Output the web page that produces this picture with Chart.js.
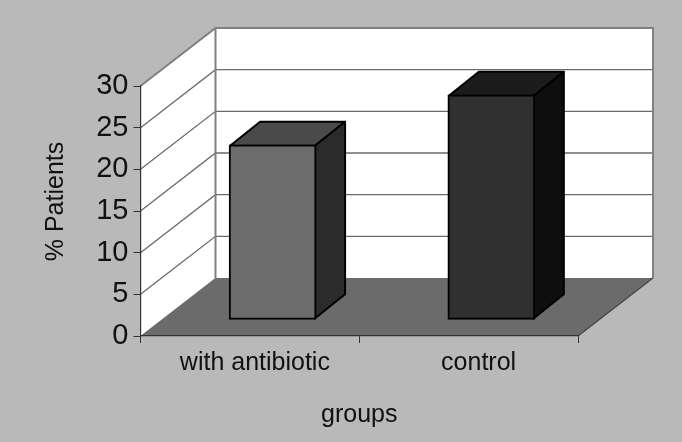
<!DOCTYPE html>
<html>
<head>
<meta charset="utf-8">
<script src="https://cdn.jsdelivr.net/npm/chart.js@4/dist/chart.umd.js"></script>
<style>
    html, body { margin: 0; padding: 0; background: #b9b9b9; }
    canvas { display: block; }
</style>
</head>
<body>
<canvas id="barChart" width="682" height="442"></canvas>
<script>
const categories = ["with antibiotic", "control"];
const patients = [21, 27];
const yTicks = [0, 5, 10, 15, 20, 25, 30];

// fake 3D: how far the back wall and the bar's own depth are shifted
const wallDepth = { x: 75, y: 58 };
const barShift = { x: 22.7, y: 16.2 };
const barDepth = { x: 30, y: 24 };
const faceColors = [
    { front: "#6c6c6c", top: "#4a4a4a", side: "#2b2b2b" },
    { front: "#303030", top: "#1c1c1c", side: "#0e0e0e" }
];
// the category labels do not sit quite under the tick centres
const labelShift = [5, 10];
const yTitleShift = -9.5;

const walls = {
    id: "walls",
    beforeDraw(chart) {
        const { ctx, chartArea: a, scales } = chart;
        const d = wallDepth;
        ctx.save();
        ctx.fillStyle = "#b9b9b9";
        ctx.fillRect(0, 0, chart.width, chart.height);

        // left and back wall
        ctx.fillStyle = "#ffffff";
        ctx.beginPath();
        ctx.moveTo(a.left, a.top);
        ctx.lineTo(a.left + d.x, a.top - d.y);
        ctx.lineTo(a.right + d.x, a.top - d.y);
        ctx.lineTo(a.right + d.x, a.bottom - d.y);
        ctx.lineTo(a.left + d.x, a.bottom - d.y);
        ctx.lineTo(a.left, a.bottom);
        ctx.closePath();
        ctx.fill();

        // floor
        ctx.fillStyle = "#6b6b6b";
        ctx.beginPath();
        ctx.moveTo(a.left, a.bottom);
        ctx.lineTo(a.right, a.bottom);
        ctx.lineTo(a.right + d.x, a.bottom - d.y);
        ctx.lineTo(a.left + d.x, a.bottom - d.y);
        ctx.closePath();
        ctx.fill();

        // grid lines run along both walls
        ctx.strokeStyle = "#6a6a6a";
        ctx.lineWidth = 1.3;
        yTicks.slice(1, -1).forEach(v => {
            const y = scales.y.getPixelForValue(v);
            ctx.beginPath();
            ctx.moveTo(a.left, y);
            ctx.lineTo(a.left + d.x, y - d.y);
            ctx.lineTo(a.right + d.x, y - d.y);
            ctx.stroke();
        });

        // wall outline
        ctx.strokeStyle = "#808080";
        ctx.lineWidth = 2;
        ctx.beginPath();
        ctx.moveTo(a.left, a.top);
        ctx.lineTo(a.left + d.x, a.top - d.y);
        ctx.lineTo(a.right + d.x, a.top - d.y);
        ctx.lineTo(a.right + d.x, a.bottom - d.y);
        ctx.moveTo(a.left + d.x, a.top - d.y);
        ctx.lineTo(a.left + d.x, a.bottom - d.y);
        ctx.stroke();

        ctx.strokeStyle = "#444444";
        ctx.lineWidth = 1.2;
        ctx.beginPath();
        ctx.moveTo(a.right, a.bottom);
        ctx.lineTo(a.right + d.x, a.bottom - d.y);
        ctx.stroke();
        ctx.restore();
    }
};

const bars3d = {
    id: "bars3d",
    beforeDatasetDraw(chart, args) {
        const ctx = chart.ctx;
        ctx.save();
        ctx.translate(barShift.x, -barShift.y);
        ctx.strokeStyle = "#000000";
        ctx.lineWidth = 2;
        ctx.lineJoin = "round";
        args.meta.data.forEach((bar, i) => {
            const w = bar.width / 2 - 1;
            const l = bar.x - w, r = bar.x + w;
            const t = bar.y + 1, b = bar.base - 1;
            const d = barDepth;

            ctx.fillStyle = faceColors[i].top;
            ctx.beginPath();
            ctx.moveTo(l, t);
            ctx.lineTo(l + d.x, t - d.y);
            ctx.lineTo(r + d.x, t - d.y);
            ctx.lineTo(r, t);
            ctx.closePath();
            ctx.fill();
            ctx.stroke();

            ctx.fillStyle = faceColors[i].side;
            ctx.beginPath();
            ctx.moveTo(r, t);
            ctx.lineTo(r + d.x, t - d.y);
            ctx.lineTo(r + d.x, b - d.y);
            ctx.lineTo(r, b);
            ctx.closePath();
            ctx.fill();
            ctx.stroke();
        });
    },
    afterDatasetDraw(chart) {
        chart.ctx.restore();
    }
};

const axisNudge = {
    id: "axisNudge",
    afterLayout(chart) {
        const { x, y } = chart.scales;
        x.getLabelItems().forEach((item, i) => {
            item.options.translation[0] += labelShift[i];
        });
        const drawTitle = y.drawTitle;
        y.drawTitle = function () {
            chart.ctx.save();
            chart.ctx.translate(0, yTitleShift);
            drawTitle.call(y);
            chart.ctx.restore();
        };
    }
};

const ctxBar = document.getElementById("barChart").getContext("2d");
new Chart(ctxBar, {
    type: "bar",
    data: {
        labels: categories,
        datasets: [{
            label: "% Patients",
            data: patients,
            backgroundColor: faceColors.map(c => c.front),
            borderColor: "#000000",
            borderWidth: 2,
            borderSkipped: false,
            barThickness: 87,
            clip: false
        }]
    },
    plugins: [walls, bars3d, axisNudge],
    options: {
        responsive: false,
        animation: false,
        layout: {
            autoPadding: false,
            padding: { top: 86, right: 104, left: 0, bottom: 0 }
        },
        plugins: {
            legend: { display: false },
            tooltip: { enabled: false }
        },
        scales: {
            x: {
                afterFit(scale) { scale.height = 106; },
                grid: { drawOnChartArea: false, tickLength: 7, color: "#333333", lineWidth: 1 },
                border: { color: "#333333", width: 1.2 },
                ticks: { color: "#111111", font: { family: "Liberation Sans", size: 25 }, padding: 5, maxRotation: 0 },
                title: {
                    display: true,
                    text: "groups",
                    color: "#111111",
                    font: { family: "Liberation Sans", size: 25 },
                    padding: { top: 0, bottom: 12 }
                }
            },
            y: {
                min: 0,
                max: 30,
                afterFit(scale) { scale.width = 140.5; },
                afterBuildTicks(scale) { scale.ticks = yTicks.map(value => ({ value })); },
                grid: { drawOnChartArea: false, tickLength: 7, color: "#333333", lineWidth: 1 },
                border: { color: "#333333", width: 1.2 },
                ticks: { color: "#111111", font: { family: "Liberation Sans", size: 29 }, padding: 5 },
                title: {
                    display: true,
                    text: "% Patients",
                    color: "#111111",
                    font: { family: "Liberation Sans", size: 25 },
                    padding: { top: 41, bottom: 0 }
                }
            }
        }
    }
});
</script>
</body>
</html>
